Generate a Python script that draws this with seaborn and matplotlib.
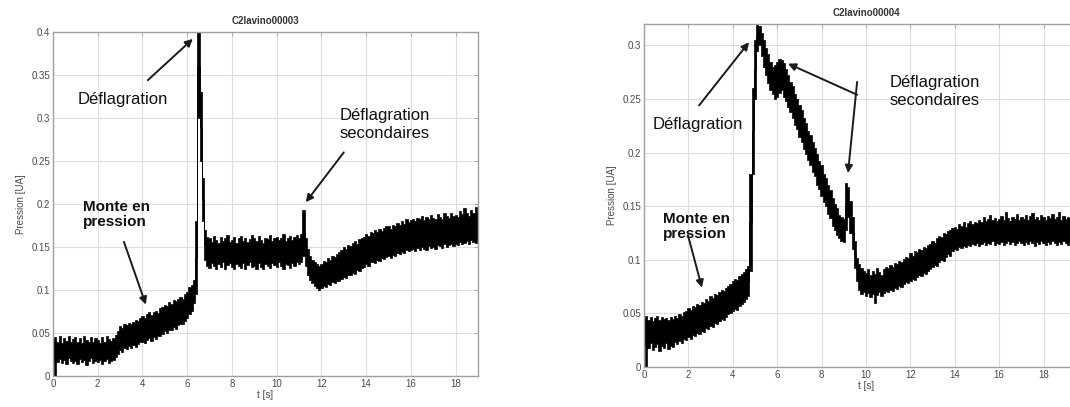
import matplotlib
matplotlib.use("Agg")
import matplotlib.pyplot as plt
import matplotlib.ticker as mticker
import numpy as np
import pandas as pd
import seaborn as sns

sns.set_style("white")
plt.rcParams["font.family"] = ["Liberation Sans", "DejaVu Sans"]

# lo / hi = lower and upper edge of the noisy signal at each sample.

# --- C2lavino00003 (t = 0 .. 19 s)
lo_left = [18, 0, 16, 20, 15, 19, 14, 21, 17, 15,
           18, 14, 20, 16, 19, 13, 17, 21, 15, 18,
           16, 19, 14, 18, 20, 15, 17, 19, 22, 26,
           30, 28, 33, 31, 35, 32, 36, 34, 37, 39,
           40, 38, 42, 44, 41, 45, 43, 47, 46, 49,
           52, 50, 54, 53, 57, 55, 59, 61, 60, 64,
           68, 72, 76, 85, 95, 300, 250, 180, 135, 128,
           126, 131, 128, 124, 130, 127, 132, 125, 129, 131,
           127, 124, 130, 128, 126, 131, 125, 129, 132, 127,
           128, 125, 131, 127, 124, 130, 128, 126, 131, 129,
           127, 132, 128, 125, 130, 129, 126, 131, 128, 133,
           130, 132, 140, 128, 118, 112, 108, 105, 102, 100,
           102, 105, 103, 107, 106, 109, 108, 111, 110, 113,
           115, 114, 118, 117, 120, 119, 123, 122, 126, 127,
           130, 128, 132, 133, 131, 135, 134, 137, 136, 138,
           139, 137, 141, 140, 143, 142, 144, 143, 146, 145,
           146, 148, 145, 149, 147, 150, 148, 146, 151, 149,
           150, 148, 152, 151, 149, 153, 150, 152, 154, 151,
           154, 152, 156, 153, 155, 157, 154, 158, 156, 155,
           158]
hi_left = [42, 45, 40, 46, 38, 44, 41, 47, 39, 43,
           45, 40, 44, 38, 46, 42, 40, 45, 39, 44,
           42, 38, 45, 40, 47, 43, 41, 44, 48, 52,
           58, 56, 60, 59, 62, 61, 63, 65, 64, 67,
           70, 68, 72, 75, 71, 74, 76, 73, 79, 80,
           83, 81, 86, 84, 88, 87, 90, 92, 89, 95,
           98, 104, 106, 112, 180, 420, 330, 230, 170, 162,
           160, 156, 163, 158, 155, 162, 157, 161, 164, 156,
           158, 162, 155, 160, 163, 157, 161, 156, 159, 164,
           160, 157, 163, 158, 155, 161, 159, 164, 157, 160,
           162, 158, 161, 165, 157, 160, 163, 158, 162, 164,
           161, 165, 193, 160, 148, 140, 135, 133, 130, 128,
           130, 134, 132, 137, 135, 140, 138, 142, 144, 146,
           150, 148, 152, 151, 155, 157, 154, 159, 160, 162,
           165, 163, 167, 166, 170, 168, 171, 169, 172, 174,
           174, 171, 176, 175, 178, 176, 180, 177, 182, 179,
           181, 183, 180, 184, 182, 186, 181, 185, 183, 187,
           184, 182, 188, 185, 183, 190, 186, 184, 189, 186,
           187, 185, 192, 188, 195, 189, 186, 193, 190, 196,
           190]

# --- C2lavino00004 (t = 0 .. 19.5 s)
lo_right = [20, 0, 18, 22, 16, 19, 21, 15, 20, 18,
            22, 17, 20, 19, 23, 21, 24, 22, 26, 25,
            28, 26, 30, 29, 32, 31, 34, 33, 36, 35,
            38, 37, 41, 40, 43, 45, 44, 47, 49, 50,
            52, 54, 53, 57, 59, 61, 63, 66, 90, 180,
            250, 295, 300, 290, 280, 272, 265, 258, 255, 250,
            252, 256, 258, 252, 248, 243, 238, 232, 226, 222,
            215, 210, 203, 199, 193, 188, 182, 178, 170, 166,
            160, 154, 150, 143, 139, 132, 128, 123, 120, 118,
            117, 128, 140, 125, 110, 92, 80, 72, 68, 70,
            66, 69, 65, 68, 60, 67, 70, 66, 69, 71,
            70, 72, 71, 74, 73, 76, 75, 77, 79, 78,
            80, 82, 81, 84, 86, 85, 88, 87, 90, 91,
            93, 95, 94, 98, 100, 99, 103, 105, 104, 108,
            110, 109, 112, 111, 113, 112, 114, 113, 115, 114,
            116, 113, 115, 117, 114, 116, 115, 118, 114, 116,
            115, 117, 114, 116, 118, 115, 117, 114, 116, 118,
            116, 114, 117, 115, 118, 116, 113, 117, 115, 118,
            116, 114, 117, 115, 118, 116, 114, 117, 115, 118,
            116, 114, 117, 115, 118, 116]
hi_right = [45, 48, 44, 47, 43, 46, 48, 44, 47, 45,
            46, 44, 47, 45, 48, 46, 49, 48, 51, 52,
            55, 53, 57, 56, 59, 58, 61, 60, 63, 62,
            66, 64, 68, 67, 70, 72, 71, 74, 76, 77,
            80, 82, 81, 85, 87, 89, 91, 94, 180, 260,
            305, 320, 318, 312, 305, 298, 292, 285, 280, 282,
            285, 287, 286, 284, 278, 272, 266, 262, 255, 250,
            244, 240, 232, 228, 220, 216, 210, 204, 199, 192,
            188, 180, 176, 170, 165, 158, 152, 148, 142, 140,
            138, 172, 168, 155, 140, 118, 102, 96, 92, 90,
            88, 91, 86, 90, 87, 92, 89, 86, 91, 93,
            92, 95, 93, 97, 96, 99, 98, 101, 103, 102,
            106, 104, 108, 107, 110, 109, 112, 111, 114, 115,
            118, 116, 120, 122, 121, 125, 124, 127, 128, 130,
            131, 129, 133, 132, 135, 131, 134, 136, 133, 135,
            134, 137, 135, 140, 136, 138, 142, 137, 139, 136,
            138, 141, 137, 145, 139, 136, 140, 138, 143, 137,
            140, 138, 142, 137, 141, 144, 138, 140, 137, 142,
            140, 137, 141, 139, 143, 138, 140, 145, 137, 141,
            138, 140, 139, 142, 137, 140]

DT = 0.1
titles = ["C2lavino00003", "C2lavino00004"]
TICK_GREY = "#4a4a4a"


def long_form(lo, hi):
    t = np.round(np.arange(len(lo)) * DT, 2)
    return pd.DataFrame({"t": np.concatenate([t, t]),
                         "p": np.concatenate([lo, hi]) / 1000.0})


def style_axes(ax, xlim, ylim, yticks, title):
    ax.set_xlim(*xlim)
    ax.set_ylim(*ylim)
    ax.set_xticks(np.arange(0, 20, 2))
    ax.set_yticks(yticks)
    ax.yaxis.set_major_formatter(mticker.FormatStrFormatter("%g"))
    ax.grid(True, color="#dedede", lw=0.8)
    ax.set_axisbelow(True)
    for s in ax.spines.values():
        s.set_color("#a0a0a0")
        s.set_linewidth(1.0)
    ax.tick_params(direction="in", top=True, right=True, length=3, width=0.6,
                   color="#a0a0a0", labelsize=7, labelcolor=TICK_GREY, pad=2)
    ax.set_xlabel("t [s]", fontsize=7, color=TICK_GREY, labelpad=1)
    ax.set_ylabel("Pression [UA]", fontsize=7, color=TICK_GREY, labelpad=4)
    ax.set_title(title, fontsize=7, color="#333333", fontweight="bold", pad=6)


def arrow(ax, start, tip):
    ax.annotate("", xy=tip, xytext=start,
                arrowprops=dict(arrowstyle="-|>", color="#1a1a1a", lw=1.4,
                                mutation_scale=11, shrinkA=0, shrinkB=0))


def label(ax, x, y, s, bold=False):
    ax.text(x, y, s, fontsize=11 if bold else 12, fontweight="bold" if bold else "normal",
            va="center", ha="left", multialignment="left",
            linespacing=1.1 if bold else 1.25, color="#111111")


fig = plt.figure(figsize=(10.7, 4.07), dpi=100)
ax1 = fig.add_axes([53 / 1070, 31 / 407, 425 / 1070, 344 / 407])
ax2 = fig.add_axes([644 / 1070, 40 / 407, 444 / 1070, 343 / 407])

for ax, lo, hi in [(ax1, lo_left, hi_left), (ax2, lo_right, hi_right)]:
    sns.lineplot(data=long_form(lo, hi), x="t", y="p", ax=ax,
                 estimator="mean", errorbar=("pi", 100), color="black", lw=0.6,
                 drawstyle="steps-mid",
                 err_kws={"alpha": 1, "step": "mid", "lw": 0.5, "edgecolor": "black"})

style_axes(ax1, (0, 19), (0, 0.4), np.arange(0, 0.41, 0.05), titles[0])
style_axes(ax2, (0, 20), (0, 0.32), np.arange(0, 0.31, 0.05), titles[1])

# annotations, left panel
label(ax1, 1.12, 0.322, "Déflagration")
arrow(ax1, (4.24, 0.344), (6.25, 0.392))
label(ax1, 1.34, 0.188, "Monte en\npression", bold=True)
arrow(ax1, (3.17, 0.156), (4.15, 0.083))
label(ax1, 12.8, 0.292, "Déflagration\nsecondaires")
arrow(ax1, (13.0, 0.26), (11.3, 0.202))

# annotations, right panel
label(ax2, 0.4, 0.226, "Déflagration")
arrow(ax2, (2.48, 0.244), (4.73, 0.303))
label(ax2, 0.86, 0.131, "Monte en\npression", bold=True)
arrow(ax2, (1.98, 0.123), (2.61, 0.074))
label(ax2, 11.08, 0.257, "Déflagration\nsecondaires")
arrow(ax2, (9.6, 0.254), (6.49, 0.283))
arrow(ax2, (9.6, 0.266), (9.19, 0.181))

fig.savefig("out.png", dpi=100)
